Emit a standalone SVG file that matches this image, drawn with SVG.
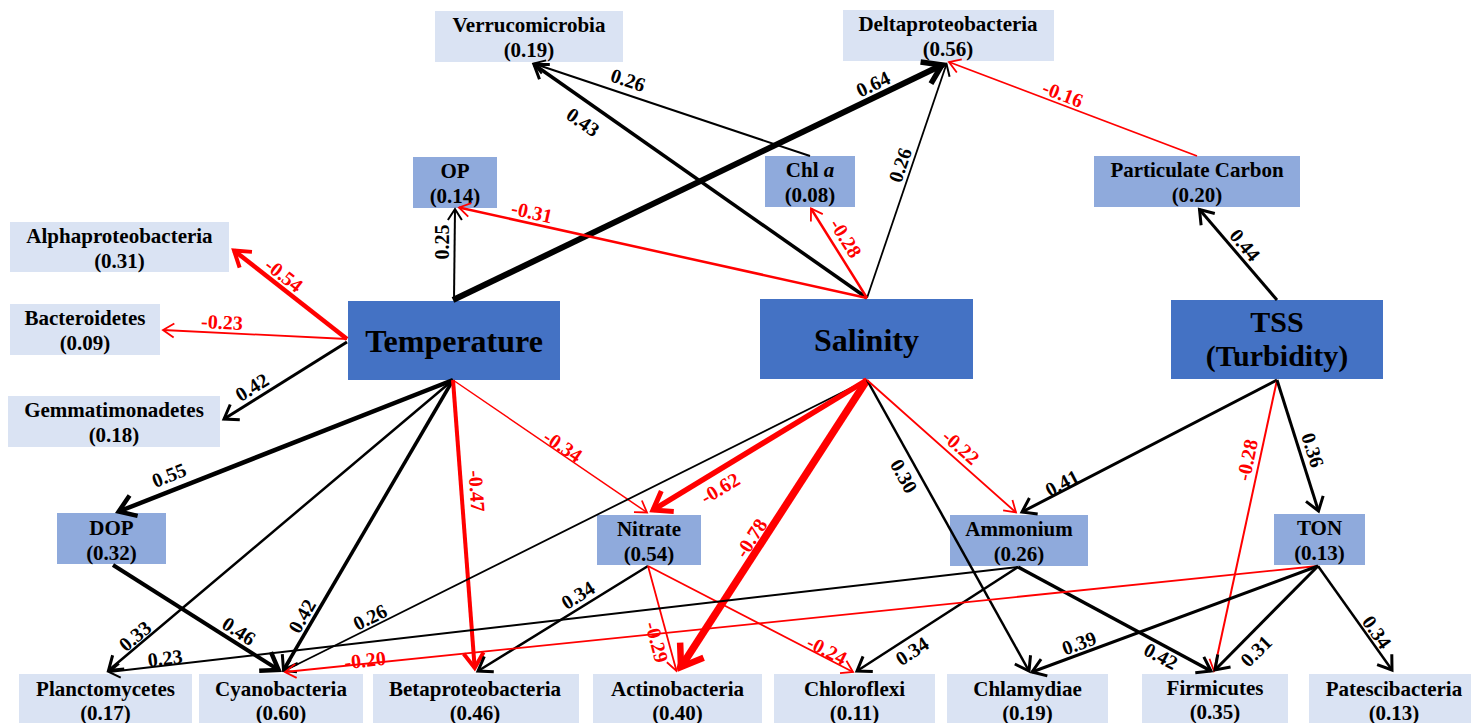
<svg xmlns="http://www.w3.org/2000/svg" width="1471" height="723" viewBox="0 0 1471 723">
<style>
.n1{fill:#DAE3F3}
.n2{fill:#8FAADC}
.n3{fill:#4472C4}
text{font-family:"Liberation Serif","Times New Roman",serif;font-weight:bold;fill:#000}
.t{font-size:21px;text-anchor:middle}
.tb{font-size:32px;text-anchor:middle}
.ts{font-size:30px;text-anchor:middle}
.e{fill:none;stroke-linecap:butt}
.k{stroke:#000}
.r{stroke:#FF0000}
.l{font-size:20px;text-anchor:middle}
.lr{fill:#FF0000}
.mk{fill:none;stroke-linejoin:miter;stroke-linecap:butt}
</style>
<defs>
<marker id="ab2" markerUnits="userSpaceOnUse" orient="auto" overflow="visible" markerWidth="1" markerHeight="1" refX="0" refY="0"><path class="mk" d="M-11,-7L0,0L-11,7" stroke="#000" stroke-width="2"/></marker>
<marker id="ab3" markerUnits="userSpaceOnUse" orient="auto" overflow="visible" markerWidth="1" markerHeight="1" refX="0" refY="0"><path class="mk" d="M-13,-9L0,0L-13,9" stroke="#000" stroke-width="3"/></marker>
<marker id="ab5" markerUnits="userSpaceOnUse" orient="auto" overflow="visible" markerWidth="1" markerHeight="1" refX="0" refY="0"><path class="mk" d="M-16,-11L0,0L-16,11" stroke="#000" stroke-width="4.5"/></marker>
<marker id="ab6" markerUnits="userSpaceOnUse" orient="auto" overflow="visible" markerWidth="1" markerHeight="1" refX="0" refY="0"><path class="mk" d="M-18,-12L0,0L-18,12" stroke="#000" stroke-width="5.5"/></marker>
<marker id="ar2" markerUnits="userSpaceOnUse" orient="auto" overflow="visible" markerWidth="1" markerHeight="1" refX="0" refY="0"><path class="mk" d="M-11,-7L0,0L-11,7" stroke="#FF0000" stroke-width="1.8"/></marker>
<marker id="ar4" markerUnits="userSpaceOnUse" orient="auto" overflow="visible" markerWidth="1" markerHeight="1" refX="0" refY="0"><path class="mk" d="M-15,-10L0,0L-15,10" stroke="#FF0000" stroke-width="4"/></marker>
<marker id="ar5" markerUnits="userSpaceOnUse" orient="auto" overflow="visible" markerWidth="1" markerHeight="1" refX="0" refY="0"><path class="mk" d="M-17,-12L0,0L-17,12" stroke="#FF0000" stroke-width="5"/></marker>
<marker id="ar7" markerUnits="userSpaceOnUse" orient="auto" overflow="visible" markerWidth="1" markerHeight="1" refX="0" refY="0"><path class="mk" d="M-20,-14L0,0L-20,14" stroke="#FF0000" stroke-width="6.5"/></marker>
</defs>
<rect width="1471" height="723" fill="#FFFFFF"/>

<g id="verrucomicrobia"><rect class="n1" x="435" y="11" width="188" height="51"/><text class="t" x="529" y="32">Verrucomicrobia</text><text class="t" x="529" y="57">(0.19)</text></g>
<g id="deltaproteobacteria"><rect class="n1" x="843" y="10" width="211" height="51"/><text class="t" x="948" y="31">Deltaproteobacteria</text><text class="t" x="948" y="56">(0.56)</text></g>
<g id="op"><rect class="n2" x="413" y="157" width="84" height="51"/><text class="t" x="455" y="178">OP</text><text class="t" x="455" y="203">(0.14)</text></g>
<g id="chla"><rect class="n2" x="765" y="156" width="90" height="51"/><text class="t" x="810" y="177">Chl <tspan font-style="italic">a</tspan></text><text class="t" x="810" y="202">(0.08)</text></g>
<g id="particulate-carbon"><rect class="n2" x="1094" y="156" width="206" height="51"/><text class="t" x="1197" y="177">Particulate Carbon</text><text class="t" x="1197" y="202">(0.20)</text></g>
<g id="alphaproteobacteria"><rect class="n1" x="10" y="222" width="219" height="50"/><text class="t" x="119.5" y="243">Alphaproteobacteria</text><text class="t" x="119.5" y="268">(0.31)</text></g>
<g id="bacteroidetes"><rect class="n1" x="10" y="304" width="150" height="51"/><text class="t" x="85" y="325">Bacteroidetes</text><text class="t" x="85" y="350">(0.09)</text></g>
<g id="gemmatimonadetes"><rect class="n1" x="8" y="396" width="212" height="51"/><text class="t" x="114" y="417">Gemmatimonadetes</text><text class="t" x="114" y="442">(0.18)</text></g>
<g id="temperature"><rect class="n3" x="348" y="301" width="212" height="79"/><text class="tb" x="454" y="352">Temperature</text></g>
<g id="salinity"><rect class="n3" x="760" y="299" width="213" height="80"/><text class="tb" x="866.5" y="351">Salinity</text></g>
<g id="tss"><rect class="n3" x="1171" y="300" width="212" height="79"/><text class="ts" x="1277" y="332">TSS</text><text class="ts" x="1277" y="365.5">(Turbidity)</text></g>
<g id="dop"><rect class="n2" x="57" y="513" width="109" height="51"/><text class="t" x="111.5" y="535">DOP</text><text class="t" x="111.5" y="560">(0.32)</text></g>
<g id="nitrate"><rect class="n2" x="597" y="515" width="104" height="50"/><text class="t" x="649" y="536">Nitrate</text><text class="t" x="649" y="561">(0.54)</text></g>
<g id="ammonium"><rect class="n2" x="950" y="515" width="138" height="51"/><text class="t" x="1019" y="536">Ammonium</text><text class="t" x="1019" y="561">(0.26)</text></g>
<g id="ton"><rect class="n2" x="1274" y="514" width="91" height="51"/><text class="t" x="1319.5" y="535">TON</text><text class="t" x="1319.5" y="560">(0.13)</text></g>
<g id="planctomycetes"><rect class="n1" x="19" y="674" width="173" height="50"/><text class="t" x="105.5" y="696">Planctomycetes</text><text class="t" x="105.5" y="720">(0.17)</text></g>
<g id="cyanobacteria"><rect class="n1" x="199" y="674" width="164" height="50"/><text class="t" x="281" y="696">Cyanobacteria</text><text class="t" x="281" y="720">(0.60)</text></g>
<g id="betaproteobacteria"><rect class="n1" x="373" y="674" width="206" height="50"/><text class="t" x="475" y="696">Betaproteobacteria</text><text class="t" x="475" y="720">(0.46)</text></g>
<g id="actinobacteria"><rect class="n1" x="593" y="674" width="169" height="50"/><text class="t" x="677.5" y="696">Actinobacteria</text><text class="t" x="677.5" y="720">(0.40)</text></g>
<g id="chloroflexi"><rect class="n1" x="774" y="674" width="161" height="50"/><text class="t" x="854.5" y="696">Chloroflexi</text><text class="t" x="854.5" y="720">(0.11)</text></g>
<g id="chlamydiae"><rect class="n1" x="947" y="674" width="161" height="50"/><text class="t" x="1027.5" y="696">Chlamydiae</text><text class="t" x="1027.5" y="720">(0.19)</text></g>
<g id="firmicutes"><rect class="n1" x="1142" y="674" width="146" height="50"/><text class="t" x="1215" y="695">Firmicutes</text><text class="t" x="1215" y="719">(0.35)</text></g>
<g id="patescibacteria"><rect class="n1" x="1309" y="674" width="162" height="50"/><text class="t" x="1394" y="696">Patescibacteria</text><text class="t" x="1394" y="720">(0.13)</text></g>

<g id="connectors">
<line class="e k" x1="454" y1="300" x2="455" y2="209" stroke-width="2" marker-end="url(#ab2)"/>
<line class="e k" x1="453" y1="300" x2="942" y2="65" stroke-width="6" marker-end="url(#ab6)"/>
<line class="e r" x1="347" y1="339" x2="234" y2="250.5" stroke-width="4.5" marker-end="url(#ar4)"/>
<line class="e r" x1="347" y1="339" x2="163" y2="330" stroke-width="1.8" marker-end="url(#ar2)"/>
<line class="e k" x1="347" y1="342" x2="224" y2="419" stroke-width="3" marker-end="url(#ab3)"/>
<line class="e k" x1="453" y1="380" x2="118.7" y2="511.5" stroke-width="4.5" marker-end="url(#ab5)"/>
<line class="e k" x1="453" y1="380" x2="108.5" y2="670.5" stroke-width="2.5" marker-end="url(#ab3)"/>
<line class="e k" x1="453" y1="380" x2="283.5" y2="670" stroke-width="3.5" marker-end="url(#ab3)"/>
<line class="e r" x1="453" y1="380" x2="474.7" y2="668" stroke-width="4" marker-end="url(#ar4)"/>
<line class="e r" x1="453" y1="380" x2="647" y2="512.5" stroke-width="1.5" marker-end="url(#ar2)"/>
<line class="e k" x1="867" y1="298" x2="534" y2="64.5" stroke-width="3.5" marker-end="url(#ab3)"/>
<line class="e k" x1="867" y1="298" x2="946.5" y2="64" stroke-width="1.8" marker-end="url(#ab2)"/>
<line class="e r" x1="867" y1="298" x2="811" y2="208.5" stroke-width="2.5" marker-end="url(#ar2)"/>
<line class="e r" x1="867" y1="298" x2="459" y2="207.5" stroke-width="2.5" marker-end="url(#ar2)"/>
<line class="e k" x1="867" y1="380" x2="284" y2="671" stroke-width="1.8" marker-end="url(#ab2)"/>
<line class="e r" x1="867" y1="380" x2="653" y2="510" stroke-width="5.5" marker-end="url(#ar5)"/>
<line class="e r" x1="867" y1="380" x2="681" y2="667" stroke-width="7.5" marker-end="url(#ar7)"/>
<line class="e k" x1="867" y1="380" x2="1029" y2="671" stroke-width="2.5" marker-end="url(#ab3)"/>
<line class="e r" x1="867" y1="380" x2="1016" y2="512.5" stroke-width="1.8" marker-end="url(#ar2)"/>
<line class="e k" x1="810" y1="156" x2="533.5" y2="63.5" stroke-width="2" marker-end="url(#ab2)"/>
<line class="e r" x1="1197" y1="156" x2="949" y2="62" stroke-width="1.8" marker-end="url(#ar2)"/>
<line class="e k" x1="1277" y1="300" x2="1199.5" y2="209.5" stroke-width="3" marker-end="url(#ab3)"/>
<line class="e k" x1="1277" y1="380" x2="1022" y2="512" stroke-width="3" marker-end="url(#ab3)"/>
<line class="e r" x1="1277" y1="380" x2="1214" y2="671" stroke-width="2" marker-end="url(#ar2)"/>
<line class="e k" x1="1277" y1="380" x2="1318.5" y2="511" stroke-width="3" marker-end="url(#ab3)"/>
<line class="e k" x1="113" y1="565" x2="278.6" y2="669.9" stroke-width="4" marker-end="url(#ab5)"/>
<line class="e k" x1="648" y1="566" x2="478" y2="671" stroke-width="2.5" marker-end="url(#ab3)"/>
<line class="e r" x1="648" y1="566" x2="676.5" y2="671" stroke-width="1.8" marker-end="url(#ar2)"/>
<line class="e r" x1="648" y1="566" x2="853" y2="672" stroke-width="1.8" marker-end="url(#ar2)"/>
<line class="e k" x1="1018" y1="567" x2="109" y2="672" stroke-width="2" marker-end="url(#ab2)"/>
<line class="e k" x1="1018" y1="567" x2="857" y2="671" stroke-width="2.5" marker-end="url(#ab3)"/>
<line class="e k" x1="1018" y1="567" x2="1211" y2="671" stroke-width="3.5" marker-end="url(#ab3)"/>
<line class="e r" x1="1318" y1="566" x2="285" y2="672" stroke-width="1.8" marker-end="url(#ar2)"/>
<line class="e k" x1="1318" y1="566" x2="1032" y2="672" stroke-width="3" marker-end="url(#ab3)"/>
<line class="e k" x1="1318" y1="566" x2="1215" y2="670" stroke-width="3" marker-end="url(#ab3)"/>
<line class="e k" x1="1318" y1="566" x2="1392" y2="670" stroke-width="2.5" marker-end="url(#ab3)"/>

<text class="l" transform="translate(442 242) rotate(-90)" y="7">0.25</text>
<text class="l" transform="translate(873 84) rotate(-25.6)" y="7">0.64</text>
<text class="l lr" transform="translate(284 275) rotate(38)" y="7">-0.54</text>
<text class="l lr" transform="translate(222 322) rotate(3)" y="7">-0.23</text>
<text class="l" transform="translate(252 387) rotate(-32)" y="7">0.42</text>
<text class="l" transform="translate(169 475) rotate(-21.5)" y="7">0.55</text>
<text class="l lr" transform="translate(477 491) rotate(86)" y="7">-0.47</text>
<text class="l lr" transform="translate(563 446) rotate(34)" y="7">-0.34</text>
<text class="l" transform="translate(135 636) rotate(-40)" y="7">0.33</text>
<text class="l" transform="translate(239 631) rotate(33)" y="7">0.46</text>
<text class="l" transform="translate(302 616) rotate(-60)" y="7">0.42</text>
<text class="l" transform="translate(370 617) rotate(-26.6)" y="7">0.26</text>
<text class="l" transform="translate(583 122) rotate(35)" y="7">0.43</text>
<text class="l" transform="translate(628 80) rotate(18.5)" y="7">0.26</text>
<text class="l" transform="translate(900 165) rotate(-71)" y="7">0.26</text>
<text class="l lr" transform="translate(532 212) rotate(12.5)" y="7">-0.31</text>
<text class="l lr" transform="translate(846 238) rotate(58)" y="7">-0.28</text>
<text class="l lr" transform="translate(1063 94) rotate(21)" y="7">-0.16</text>
<text class="l" transform="translate(1245 245) rotate(50)" y="7">0.44</text>
<text class="l" transform="translate(1062 483) rotate(-27.5)" y="7">0.41</text>
<text class="l" transform="translate(1313 450) rotate(72.6)" y="7">0.36</text>
<text class="l lr" transform="translate(1247 460) rotate(-78)" y="7">-0.28</text>
<text class="l lr" transform="translate(720 488) rotate(-31)" y="7">-0.62</text>
<text class="l lr" transform="translate(751 538) rotate(-57)" y="7">-0.78</text>
<text class="l lr" transform="translate(961 447) rotate(41)" y="7">-0.22</text>
<text class="l" transform="translate(904 476) rotate(61)" y="7">0.30</text>
<text class="l" transform="translate(578 595) rotate(-32)" y="7">0.34</text>
<text class="l lr" transform="translate(657 642) rotate(75)" y="7">-0.29</text>
<text class="l lr" transform="translate(827 650) rotate(27)" y="7">-0.24</text>
<text class="l" transform="translate(912 651) rotate(-33)" y="7">0.34</text>
<text class="l" transform="translate(1079 643) rotate(-20)" y="7">0.39</text>
<text class="l" transform="translate(1161 656) rotate(28)" y="7">0.42</text>
<text class="l" transform="translate(1256 651) rotate(-45)" y="7">0.31</text>
<text class="l" transform="translate(1377 632) rotate(55)" y="7">0.34</text>
<text class="l" transform="translate(165 658) rotate(-6.6)" y="7">0.23</text>
<text class="l lr" transform="translate(365 660) rotate(-6)" y="7">-0.20</text>
</g>
</svg>
